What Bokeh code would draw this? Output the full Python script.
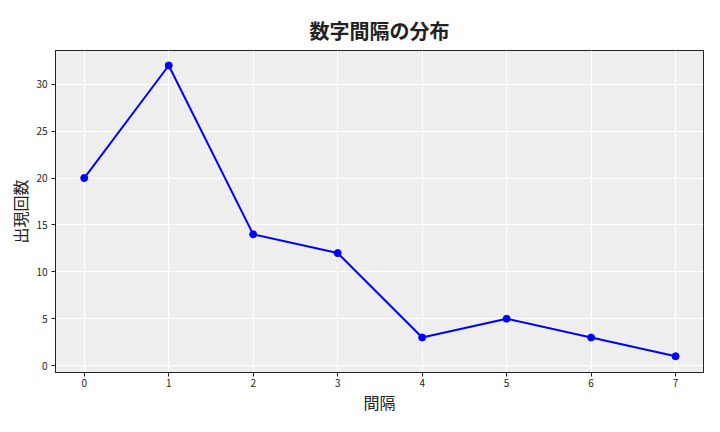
from bokeh.plotting import figure
from bokeh.models import Range1d, FixedTicker
from bokeh.embed import file_html
from bokeh.resources import INLINE

# data
intervals = [0, 1, 2, 3, 4, 5, 6, 7]
counts = [20, 32, 14, 12, 3, 5, 3, 1]
y_ticks = [0, 5, 10, 15, 20, 25, 30]

FONT = "Noto Sans CJK JP"

p = figure(width=704, height=416, output_backend="svg", toolbar_location=None,
           x_range=Range1d(-0.34, 7.33), y_range=Range1d(-0.73, 33.6),
           title="数字間隔の分布", x_axis_label="間隔", y_axis_label="出現回数",
           min_border_left=55, min_border_right=1, min_border_top=50,
           min_border_bottom=36)

p.title.align = "center"
p.title.text_font = FONT
p.title.text_font_size = "20px"
p.title.text_font_style = "bold"
p.title.text_color = "#222222"
p.title.standoff = 12

p.background_fill_color = "#eeeeee"
p.border_fill_color = "white"
p.outline_line_color = "#222222"
p.outline_line_width = 1
p.grid.grid_line_color = "white"
p.grid.grid_line_width = 1

p.xaxis.ticker = FixedTicker(ticks=intervals)
p.yaxis.ticker = FixedTicker(ticks=y_ticks)
for ax in (p.xaxis, p.yaxis):
    ax.axis_label_text_font = FONT
    ax.axis_label_text_font_size = "16px"
    ax.axis_label_text_font_style = "normal"
    ax.axis_label_text_color = "#222222"
    ax.major_label_text_font = FONT
    ax.major_label_text_font_size = "10px"
    ax.major_label_text_color = "#222222"
    ax.major_label_standoff = 4
    ax.minor_tick_line_color = None
    ax.major_tick_out = 4
    ax.major_tick_in = 0
    ax.axis_line_color = "#222222"
    ax.major_tick_line_color = "#222222"
p.xaxis.major_label_standoff = 2
p.xaxis.axis_label_standoff = 0
p.yaxis.axis_label_standoff = 1

p.line(intervals, counts, line_color="blue", line_width=2)
p.scatter(intervals, counts, size=7, fill_color="blue", line_color="blue")

open("out.html", "w").write(file_html(p, INLINE))
